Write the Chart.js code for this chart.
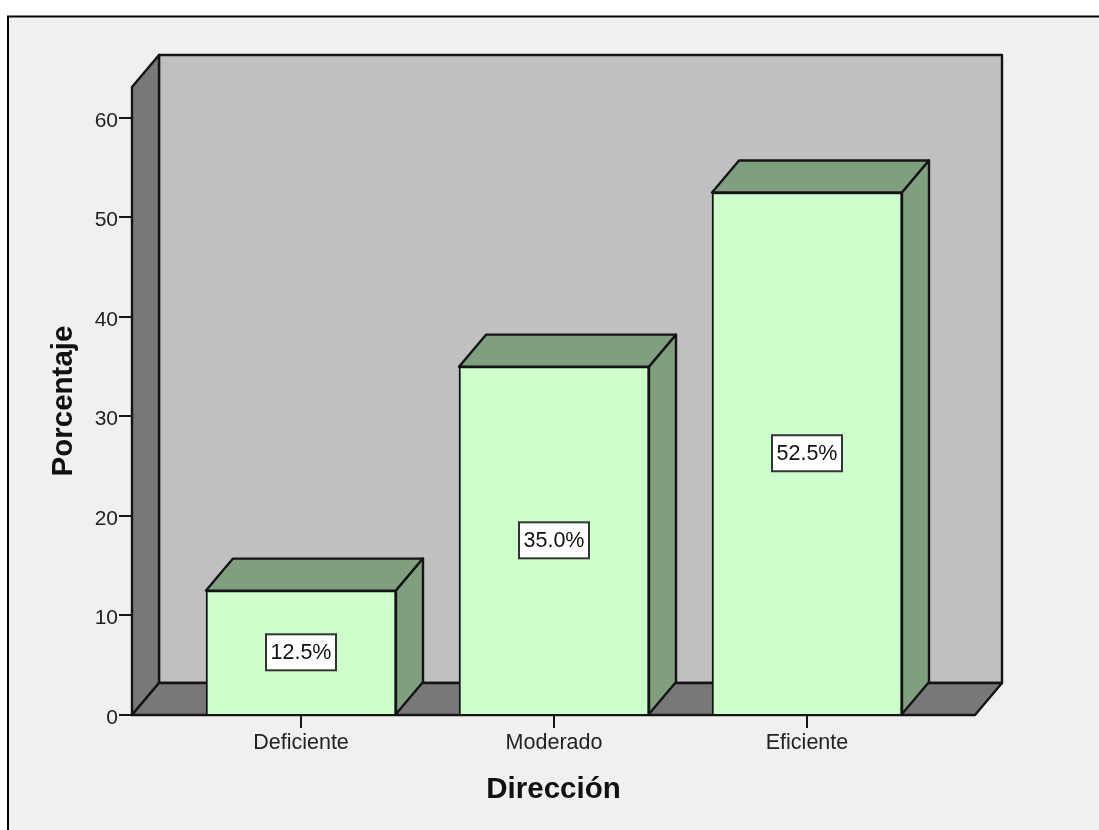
<!DOCTYPE html>
<html>
<head>
<meta charset="utf-8">
<style>
  html, body { margin: 0; padding: 0; background: #ffffff; overflow: hidden; }
  #wrap { position: absolute; left: 0; top: 0; width: 1099px; height: 830px; }
</style>
<script src="https://cdn.jsdelivr.net/npm/chart.js@4"></script>
</head>
<body>
<div id="wrap"><canvas id="chart" width="1099" height="830"></canvas></div>
<script>
const categories = ['Deficiente', 'Moderado', 'Eficiente'];
const percentages = [12.5, 35.0, 52.5];
const valueLabels = ['12.5%', '35.0%', '52.5%'];
const yTicks = [0, 10, 20, 30, 40, 50, 60];
const xTitle = 'Dirección';
const yTitle = 'Porcentaje';

const INK = '#141414';
const FONT = '"Liberation Sans", Arial, sans-serif';
const STROKE = 2.4;
// Oblique offset of the extruded box faces, in pixels
const DEPTH_X = 27;
const DEPTH_Y = 32;

function poly(ctx, pts, fill) {
  ctx.beginPath();
  pts.forEach((p, i) => i ? ctx.lineTo(p[0], p[1]) : ctx.moveTo(p[0], p[1]));
  ctx.closePath();
  ctx.fillStyle = fill;
  ctx.fill();
  ctx.stroke();
}

// Panel background with its dark frame along the top and left edges
const panel = {
  id: 'panel',
  beforeDraw(chart) {
    const { ctx, width, height } = chart;
    ctx.save();
    ctx.fillStyle = '#ffffff';
    ctx.fillRect(0, 0, width, height);
    ctx.fillStyle = '#f0f0f0';
    ctx.fillRect(8, 16, width - 8, height - 16);
    ctx.strokeStyle = '#000000';
    ctx.lineWidth = 2;
    ctx.beginPath();
    ctx.moveTo(8, height);
    ctx.lineTo(8, 16.5);
    ctx.lineTo(width, 16.5);
    ctx.stroke();
    ctx.restore();
  }
};

// Side wall, back wall and floor of the plot box
const plotBox = {
  id: 'plotBox',
  beforeDatasetsDraw(chart) {
    const { ctx, chartArea: a } = chart;
    const dx = DEPTH_X, dy = DEPTH_Y;
    ctx.save();
    ctx.strokeStyle = INK;
    ctx.lineWidth = STROKE;
    ctx.lineJoin = 'round';
    poly(ctx, [[a.left + dx, a.top - dy], [a.right + dx, a.top - dy], [a.right + dx, a.bottom - dy], [a.left + dx, a.bottom - dy]], '#c0c0c0');
    poly(ctx, [[a.left, a.top], [a.left + dx, a.top - dy], [a.left + dx, a.bottom - dy], [a.left, a.bottom]], '#787878');
    poly(ctx, [[a.left, a.bottom], [a.left + dx, a.bottom - dy], [a.right + dx, a.bottom - dy], [a.right, a.bottom]], '#787878');
    ctx.restore();
  }
};

// Top and right faces of each bar, followed by its boxed value label
const barFaces = {
  id: 'barFaces',
  beforeDatasetDraw(chart) {
    const { ctx } = chart;
    const dx = DEPTH_X, dy = DEPTH_Y;
    ctx.save();
    ctx.strokeStyle = INK;
    ctx.lineWidth = STROKE;
    ctx.lineJoin = 'round';
    chart.getDatasetMeta(0).data.forEach(bar => {
      const l = bar.x - bar.width / 2, r = bar.x + bar.width / 2;
      poly(ctx, [[l, bar.y], [l + dx, bar.y - dy], [r + dx, bar.y - dy], [r, bar.y]], '#7f9f7f');
      poly(ctx, [[r, bar.y], [r + dx, bar.y - dy], [r + dx, bar.base - dy], [r, bar.base]], '#7f9f7f');
    });
    ctx.restore();
  },
  afterDatasetDraw(chart) {
    const { ctx } = chart;
    ctx.save();
    ctx.font = '21.5px ' + FONT;
    ctx.textAlign = 'center';
    ctx.textBaseline = 'middle';
    chart.getDatasetMeta(0).data.forEach((bar, i) => {
      const cy = (bar.y + bar.base) / 2;
      const w = 70, h = 36;
      ctx.fillStyle = '#ffffff';
      ctx.fillRect(bar.x - w / 2, cy - h / 2, w, h);
      ctx.strokeStyle = '#333333';
      ctx.lineWidth = 2;
      ctx.strokeRect(bar.x - w / 2, cy - h / 2, w, h);
      ctx.fillStyle = '#111111';
      ctx.fillText(valueLabels[i], bar.x, cy + 1);
    });
    ctx.restore();
  }
};

new Chart(document.getElementById('chart'), {
  type: 'bar',
  data: {
    datasets: [{
      data: percentages.map((v, i) => ({ x: i, y: v })),
      backgroundColor: '#ccffcc',
      borderColor: INK,
      borderWidth: 2,
      barThickness: 190
    }]
  },
  plugins: [panel, plotBox, barFaces],
  options: {
    responsive: false,
    animation: false,
    layout: { padding: { left: 0, top: 87, right: 124, bottom: 0 } },
    plugins: { legend: { display: false }, tooltip: { enabled: false } },
    scales: {
      x: {
        type: 'linear',
        offset: false,
        min: -0.668,
        max: 2.664,
        afterBuildTicks(scale) { scale.ticks = categories.map((_, i) => ({ value: i })); },
        afterFit(scale) { scale.height = 115; },
        grid: { offset: false, drawOnChartArea: false, drawTicks: true, tickLength: 13, color: INK, lineWidth: 2 },
        border: { display: true, color: INK, width: 2 },
        ticks: {
          color: '#222222',
          font: { family: FONT, size: 21.5 },
          padding: 2,
          maxRotation: 0,
          callback: v => categories[v]
        },
        title: {
          display: true,
          text: xTitle,
          color: '#111111',
          font: { family: FONT, size: 29.5, weight: 'bold' },
          padding: { top: 0, bottom: 22 }
        }
      },
      y: {
        type: 'linear',
        min: 0,
        max: 63.1,
        afterBuildTicks(scale) { scale.ticks = yTicks.map(v => ({ value: v })); },
        afterFit(scale) { scale.width = 132; },
        grid: { drawOnChartArea: false, drawTicks: true, tickLength: 13, color: INK, lineWidth: 2 },
        border: { display: true, color: INK, width: 2 },
        ticks: {
          color: '#222222',
          font: { family: FONT, size: 21 },
          padding: 1,
          labelOffset: 3
        },
        title: {
          display: true,
          text: yTitle,
          color: '#111111',
          font: { family: FONT, size: 29.5, weight: 'bold' },
          padding: { top: 46, bottom: 0 }
        }
      }
    }
  }
});
</script>
</body>
</html>
